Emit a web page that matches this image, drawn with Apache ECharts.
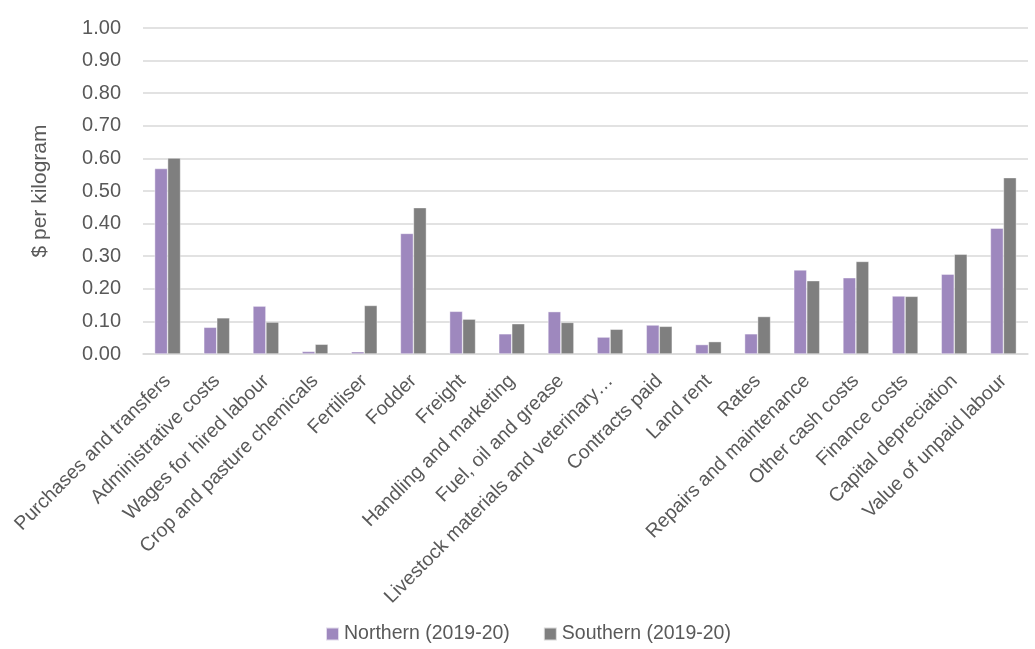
<!DOCTYPE html>
<html>
<head>
<meta charset="utf-8">
<style>
  html, body { margin: 0; padding: 0; background: #fff; }
  #chart { width: 1035px; height: 649px; }
</style>
<script src="https://cdn.jsdelivr.net/npm/echarts@6/dist/echarts.min.js"></script>
</head>
<body>
<div id="chart"></div>
<script>
// cost items, $ per kilogram
const categories = [
  'Purchases and transfers', 'Administrative costs', 'Wages for hired labour',
  'Crop and pasture chemicals', 'Fertiliser', 'Fodder', 'Freight',
  'Handling and marketing', 'Fuel, oil and grease', 'Livestock materials and veterinary…',
  'Contracts paid', 'Land rent', 'Rates', 'Repairs and maintenance',
  'Other cash costs', 'Finance costs', 'Capital depreciation', 'Value of unpaid labour'
];
const northern = [0.569, 0.082, 0.147, 0.008, 0.007, 0.370, 0.131, 0.062, 0.130, 0.052,
  0.089, 0.029, 0.062, 0.258, 0.234, 0.178, 0.245, 0.386];
const southern = [0.601, 0.111, 0.098, 0.030, 0.149, 0.449, 0.107, 0.093, 0.097, 0.076,
  0.085, 0.038, 0.115, 0.225, 0.284, 0.177, 0.306, 0.541];
const seriesNames = ['Northern (2019-20)', 'Southern (2019-20)'];

const FONT = '"Liberation Sans", Arial, sans-serif';
const TEXT = '#595959';

const chart = echarts.init(document.getElementById('chart'));
chart.setOption({
  animation: false,
  textStyle: { fontFamily: FONT, color: TEXT },
  grid: { left: 143, right: 7, top: 28, bottom: 295, containLabel: false },
  legend: {
    top: 619,
    left: 320,
    itemWidth: 13,
    itemHeight: 13,
    itemGap: 33,
    icon: 'rect',
    textStyle: { fontFamily: FONT, color: TEXT, fontSize: 19.5 },
    data: seriesNames
  },
  xAxis: {
    type: 'category',
    data: categories,
    axisLine: { lineStyle: { color: '#d9d9d9', width: 1.5 } },
    axisTick: { show: false },
    axisLabel: {
      interval: 0,
      rotate: 45,
      margin: 24,
      fontSize: 19.5,
      color: TEXT,
      fontFamily: FONT
    }
  },
  yAxis: {
    type: 'value',
    min: 0,
    max: 1,
    interval: 0.1,
    name: '$ per kilogram',
    nameLocation: 'middle',
    nameGap: 92,
    nameTextStyle: { fontSize: 21, color: TEXT, fontFamily: FONT },
    axisLine: { show: false },
    axisTick: { show: false },
    axisLabel: {
      fontSize: 20,
      color: TEXT,
      margin: 22,
      formatter: v => v.toFixed(2)
    },
    splitLine: { lineStyle: { color: '#d9d9d9', width: 1.5 } }
  },
  series: [
    {
      name: seriesNames[0],
      type: 'bar',
      data: northern,
      barWidth: 13,
      barGap: '0%',
      itemStyle: { color: '#9e88be', borderColor: 'rgba(255,255,255,0.7)', borderWidth: 0.6 }
    },
    {
      name: seriesNames[1],
      type: 'bar',
      data: southern,
      barWidth: 13,
      barGap: '0%',
      itemStyle: { color: '#7f7f7f', borderColor: 'rgba(255,255,255,0.7)', borderWidth: 0.6 }
    }
  ]
});
window.addEventListener('resize', () => chart.resize());
</script>
</body>
</html>
